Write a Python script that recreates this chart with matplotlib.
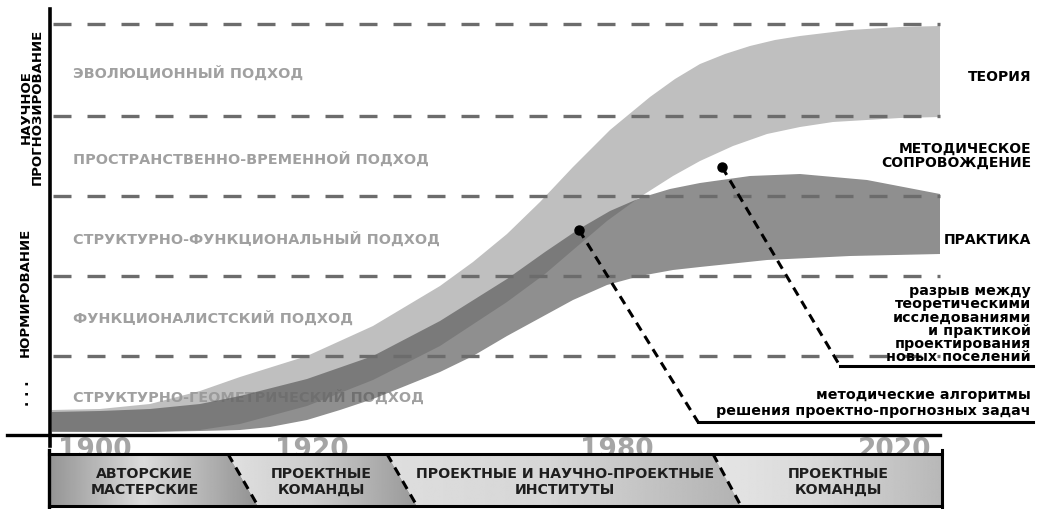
import numpy as np
import matplotlib.pyplot as plt
from matplotlib.patches import Polygon

plt.rcParams['font.family'] = ['DejaVu Sans']

# schematic scale: x = position along the timeline, y = level (0 at top)
levels = [25, 117, 197, 277, 357]
approaches = ['ЭВОЛЮЦИОННЫЙ ПОДХОД', 'ПРОСТРАНСТВЕННО-ВРЕМЕННОЙ ПОДХОД',
              'СТРУКТУРНО-ФУНКЦИОНАЛЬНЫЙ ПОДХОД', 'ФУНКЦИОНАЛИСТСКИЙ ПОДХОД',
              'СТРУКТУРНО-ГЕОМЕТРИЧЕСКИЙ ПОДХОД']
approach_y = [73, 159, 239, 318, 397]

years = ['1900', '1920', '1980', '2020']
year_x = [95, 312, 617, 895]

# theory band
theory_top_x = [52, 100, 150, 200, 240, 307, 373, 440, 473, 507, 540, 573, 610, 650, 675, 700, 725, 750, 775, 800, 850, 900, 940]
theory_top_y = [411, 410, 405, 392, 378, 357, 327, 287, 263, 235, 203, 168, 131, 98, 80, 65, 55, 47, 41, 37, 31, 28, 27]
theory_bot_x = [52, 150, 200, 240, 307, 373, 440, 507, 545, 573, 607, 640, 673, 700, 733, 767, 800, 833, 900, 940]
theory_bot_y = [432, 433, 431, 425, 407, 381, 347, 303, 275, 251, 222, 198, 177, 162, 147, 135, 128, 123, 119, 118]

# practice band
practice_top_x = [52, 100, 150, 200, 240, 307, 373, 440, 507, 545, 579, 610, 640, 670, 700, 750, 800, 867, 940]
practice_top_y = [413, 412, 410, 405, 397, 380, 357, 322, 280, 253, 230, 212, 199, 190, 184, 177, 175, 181, 195]
practice_bot_x = [52, 150, 200, 240, 270, 307, 340, 373, 440, 473, 507, 573, 607, 640, 673, 700, 767, 850, 940]
practice_bot_y = [433, 433, 432, 431, 428, 421, 411, 400, 373, 357, 337, 301, 286, 277, 271, 268, 261, 257, 255]

right_labels = ['ТЕОРИЯ', 'МЕТОДИЧЕСКОЕ\nСОПРОВОЖДЕНИЕ', 'ПРАКТИКА']
right_y = [77, 156, 240]

notes = ['разрыв между\nтеоретическими\nисследованиями\nи практикой\nпроектирования\nновых поселений',
         'методические алгоритмы\nрешения проектно-прогнозных задач']
note_dot = [(722, 168), (579, 231)]
note_knee = [(840, 367), (698, 423)]
note_text_y = [324, 403]
note_spacing = [0.93, 1.18]
note_right = 1031

stages = ['АВТОРСКИЕ\nМАСТЕРСКИЕ', 'ПРОЕКТНЫЕ\nКОМАНДЫ',
          'ПРОЕКТНЫЕ И НАУЧНО-ПРОЕКТНЫЕ\nИНСТИТУТЫ', 'ПРОЕКТНЫЕ\nКОМАНДЫ']
stage_x = [145, 321, 565, 838]
sep_top = [228, 387, 713]
sep_bot = [258, 417, 741]
stage_shades = [(0.58, 0.86, 0.57), (0.88, 0.80, 0.60), (0.87, 0.84, 0.70), (0.90, 0.85, 0.72)]
bar_left, bar_right, bar_top, bar_bot = 49, 942, 455, 507

fig = plt.figure(figsize=(10.38, 5.10), dpi=100)
ax = fig.add_axes([0, 0, 1, 1])
ax.set_xlim(0, 1038)
ax.set_ylim(510, 0)
ax.axis('off')

# approach labels (under the bands)
for txt, y in zip(approaches, approach_y):
    ax.text(73, y, txt, color='#a0a0a0', fontsize=10.4, fontweight='bold', va='center', ha='left', zorder=1)

# bands
ax.fill(theory_top_x + theory_bot_x[::-1], theory_top_y + theory_bot_y[::-1],
        color='#989898', alpha=0.62, lw=0, zorder=2)
ax.fill(practice_top_x + practice_bot_x[::-1], practice_top_y + practice_bot_y[::-1],
        color='#5a5a5a', alpha=0.68, lw=0, zorder=3)

# level lines
for y in levels:
    ax.plot([53, 940], [y, y], color='#6c6c6c', lw=2.4, ls=(0, (5.4, 4.8)), zorder=4)

# axes
ax.plot([50, 50], [10, 447], color='black', lw=2.6, zorder=6)
ax.plot([7, 940], [436, 436], color='black', lw=2.4, zorder=6)

# left group labels
ax.text(32, 107, 'НАУЧНОЕ\nПРОГНОЗИРОВАНИЕ', rotation=90, ha='center', va='center',
        fontsize=9.5, fontweight='bold', linespacing=0.85)
ax.text(25, 292, 'НОРМИРОВАНИЕ', rotation=90, ha='center', va='center',
        fontsize=9.5, fontweight='bold')
ax.text(25, 393, '. . .', rotation=90, ha='center', va='center', fontsize=10, fontweight='bold')

# right labels
for txt, y in zip(right_labels, right_y):
    ax.text(note_right, y, txt, ha='right', va='center', fontsize=10, fontweight='bold',
            linespacing=1.05)

# leader notes
for txt, dot, knee, ty, sp in zip(notes, note_dot, note_knee, note_text_y, note_spacing):
    ax.plot([dot[0], knee[0]], [dot[1], knee[1]], color='black', lw=2.2, ls=(0, (3.0, 2.1)), zorder=7)
    ax.plot([knee[0], note_right + 2], [knee[1], knee[1]], color='black', lw=2.2, zorder=7)
    ax.plot(dot[0], dot[1], 'o', color='black', ms=6.5, zorder=8)
    ax.text(note_right, ty, txt, ha='right', va='center', fontsize=10.3, fontweight='bold',
            linespacing=sp, zorder=8)

# year labels
for txt, x in zip(years, year_x):
    ax.text(x, bar_top + 2, txt, ha='center', va='baseline', fontsize=19, fontweight='heavy',
            color='#a5a5a5', zorder=5)

# stage bar
edges_top = [bar_left] + sep_top + [bar_right]
edges_bot = [bar_left] + sep_bot + [bar_right]
for i, (txt, cx) in enumerate(zip(stages, stage_x)):
    poly = Polygon([(edges_top[i], bar_top), (edges_top[i + 1], bar_top),
                    (edges_bot[i + 1], bar_bot), (edges_bot[i], bar_bot)],
                   closed=True, facecolor='none', edgecolor='none')
    ax.add_patch(poly)
    x0 = min(edges_top[i], edges_bot[i])
    x1 = max(edges_top[i + 1], edges_bot[i + 1])
    a, b, c = stage_shades[i]
    grad = np.interp(np.linspace(0, 1, 200), [0, 0.45, 1], [a, b, c])[None, :]
    im = ax.imshow(grad, cmap='gray', vmin=0, vmax=1, aspect='auto',
                   extent=[x0, x1, bar_bot, bar_top], zorder=6, interpolation='bilinear')
    im.set_clip_path(poly)
    ax.text(cx, (bar_top + bar_bot) / 2 + 1, txt, ha='center', va='center', fontsize=10.2,
            fontweight='bold', color='#1e1e1e', linespacing=1.15, zorder=7)
ax.set_xlim(0, 1038)
ax.set_ylim(510, 0)

for xt, xb in zip(sep_top, sep_bot):
    ax.plot([xt, xb], [bar_top, bar_bot], color='black', lw=2.2, ls=(0, (3.0, 2.1)), zorder=7)
ax.plot([bar_left, bar_right], [bar_top, bar_top], color='black', lw=2.2, zorder=7)
ax.plot([bar_left, bar_right], [bar_bot, bar_bot], color='black', lw=2.2, zorder=7)
ax.plot([bar_left, bar_left], [bar_top - 4, bar_bot + 2], color='black', lw=2.4, zorder=7)
ax.plot([bar_right, bar_right], [bar_top - 4, bar_bot + 2], color='black', lw=2.2, zorder=7)

fig.savefig('out.png', dpi=100)
